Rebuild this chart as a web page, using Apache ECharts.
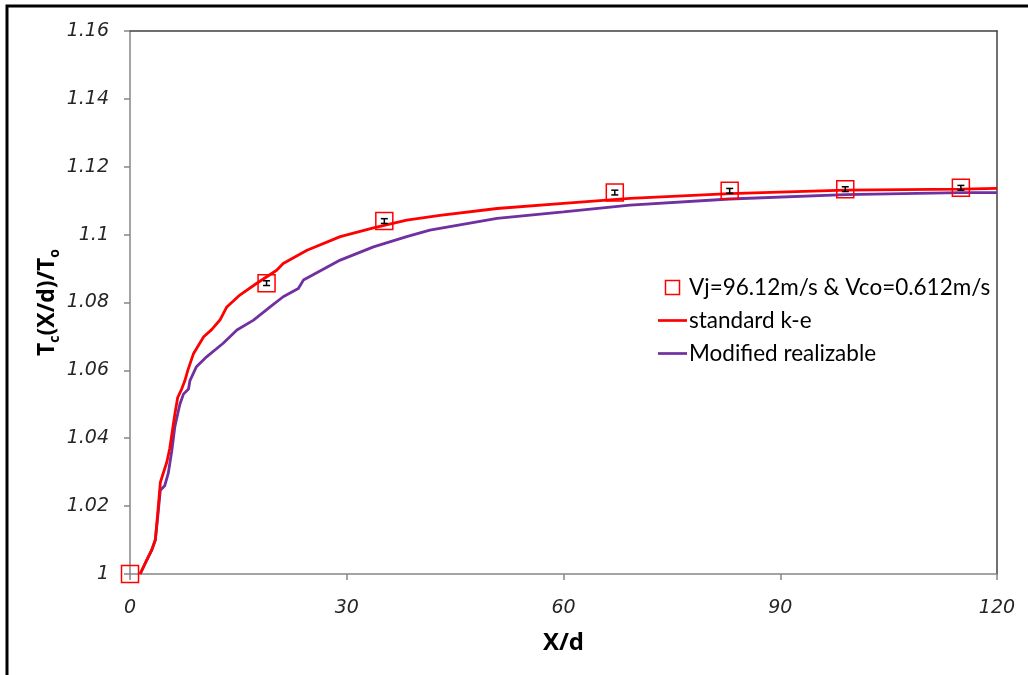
<!DOCTYPE html>
<html>
<head>
<meta charset="utf-8">
<script src="https://cdn.jsdelivr.net/npm/echarts@6/dist/echarts.min.js"></script>
<style>html,body{margin:0;padding:0;background:#fff}#c{width:1028px;height:675px}</style>
</head>
<body>
<div id="c"></div>
<script>
// ---- data ----
const expName = 'Vj=96.12m/s & Vco=0.612m/s';
const redName = 'standard k-e';
const purpleName = 'Modified realizable';

const expX = [0, 18.9, 35.2, 67.1, 83.0, 99.0, 115.0];
const expY = [1.0, 1.0857, 1.1040, 1.1124, 1.1129, 1.1134, 1.1138];
const expErr = [0, 0.0007, 0.0007, 0.0007, 0.0007, 0.0007, 0.0007];

const redX = [1.4, 2.3, 3.0, 3.5, 3.8, 4.2, 4.6, 5.1, 5.5, 6.2, 6.6, 7.15, 7.6, 8.0, 8.8, 10.2, 11.3, 12.5, 13.4, 15.2, 17.5, 20.3, 21.2, 24.5, 29.1, 33.7, 38.3, 42.9, 50.8, 60, 69.2, 83, 99, 115, 120];
const redY = [1.0, 1.004, 1.007, 1.010, 1.017, 1.027, 1.0297, 1.033, 1.037, 1.047, 1.052, 1.0545, 1.057, 1.060, 1.065, 1.0699, 1.072, 1.075, 1.0787, 1.0822, 1.0856, 1.0895, 1.0915, 1.0954, 1.0994, 1.102, 1.1043, 1.1057, 1.1077, 1.1092, 1.1107, 1.1121, 1.1131, 1.1134, 1.1136];

const purX = [1.4, 2.3, 3.0, 3.5, 3.8, 4.2, 4.8, 5.3, 5.8, 6.2, 6.9, 7.4, 8.1, 8.3, 9.2, 10.6, 12.9, 14.8, 17.1, 19.4, 21.2, 23.3, 24, 29.1, 33.7, 38.3, 41.5, 50.8, 60, 69.2, 83, 99, 115, 120];
const purY = [1.0, 1.004, 1.007, 1.010, 1.016, 1.0247, 1.026, 1.0297, 1.0365, 1.0433, 1.050, 1.053, 1.0545, 1.057, 1.0611, 1.064, 1.068, 1.0719, 1.0748, 1.0787, 1.0817, 1.0841, 1.0866, 1.0925, 1.0964, 1.0994, 1.1013, 1.1048, 1.1067, 1.1087, 1.1105, 1.1118, 1.1124, 1.1124];

const xMin = 0, xMax = 120, xInterval = 30;
const yMin = 1, yMax = 1.16, yInterval = 0.02;

// ---- chart ----
const zip = (a, b) => a.map((v, i) => [v, b[i]]);
const errData = expX.map((x, i) => [x, expY[i] - expErr[i], expY[i] + expErr[i]]);

const chart = echarts.init(document.getElementById('c'), null, {renderer: 'canvas'});
const labelFont = {fontFamily: 'DejaVu Sans', fontStyle: 'italic', fontSize: 19, color: '#262626'};
const lineIcon = 'path://M0,0 H30 V2.8 H0 Z';

chart.setOption({
  animation: false,
  backgroundColor: '#fff',
  graphic: [{
    type: 'rect', shape: {x: 7, y: 6, width: 1200, height: 1000},
    style: {fill: 'none', stroke: '#000', lineWidth: 3}, silent: true, z: 100
  }],
  grid: {left: 130, right: 31, top: 31, bottom: 101, containLabel: false},
  legend: {
    orient: 'vertical', left: 653, top: 271, itemWidth: 29, itemHeight: 14, itemGap: 10,
    textStyle: {fontFamily: 'Lato', fontSize: 22.5, color: '#000', padding: [0, 0, 0, -3]},
    data: [
      {name: expName, icon: 'path://M0,0 H10 V10 H0 Z', itemStyle: {color: 'rgba(0,0,0,0)', borderColor: '#ff0000', borderWidth: 1.5}},
      {name: redName, icon: lineIcon, itemStyle: {color: '#ff0000'}},
      {name: purpleName, icon: lineIcon, itemStyle: {color: '#7030a0'}}
    ]
  },
  xAxis: [{
    type: 'value', min: xMin, max: xMax, interval: xInterval,
    name: 'X/d', nameLocation: 'middle', nameGap: 57, nameMoveOverlap: false,
    nameTextStyle: {fontFamily: 'Open Sans', fontWeight: 'bold', fontSize: 24, color: '#000'},
    axisLine: {show: true, lineStyle: {color: '#868686', width: 1.5}},
    axisTick: {show: true, inside: false, length: 6, lineStyle: {color: '#868686', width: 1.5}},
    axisLabel: Object.assign({margin: 25}, labelFont),
    splitLine: {show: false}
  }, {
    type: 'value', position: 'top', min: xMin, max: xMax,
    axisLine: {show: true, onZero: false, lineStyle: {color: '#404040', width: 1.5}},
    axisTick: {show: false}, axisLabel: {show: false}, splitLine: {show: false}
  }],
  yAxis: [{
    type: 'value', min: yMin, max: yMax, interval: yInterval,
    name: '{b|T}{s|c}{b|(X/d)/T}{s|o}', nameLocation: 'middle', nameGap: 68, nameMoveOverlap: false,
    nameTextStyle: {
      rich: {
        b: {fontFamily: 'Open Sans', fontWeight: 'bold', fontSize: 23, color: '#000', lineHeight: 30},
        s: {fontFamily: 'Open Sans', fontWeight: 'bold', fontSize: 14, color: '#000', lineHeight: 15, verticalAlign: 'bottom'}
      }
    },
    axisLine: {show: true, onZero: false, lineStyle: {color: '#868686', width: 1.5}},
    axisTick: {show: true, inside: false, length: 6, lineStyle: {color: '#868686', width: 1.5}},
    axisLabel: Object.assign({margin: 21, formatter: v => String(+v.toFixed(2))}, labelFont),
    splitLine: {show: false}
  }, {
    type: 'value', position: 'right', min: yMin, max: yMax,
    axisLine: {show: true, onZero: false, lineStyle: {color: '#404040', width: 1.5}},
    axisTick: {show: false}, axisLabel: {show: false}, splitLine: {show: false}
  }],
  series: [
    {
      name: purpleName, type: 'line', data: zip(purX, purY), showSymbol: false, symbol: 'none',
      lineStyle: {color: '#7030a0', width: 2.8}, itemStyle: {color: '#7030a0'}, z: 2
    },
    {
      name: redName, type: 'line', data: zip(redX, redY), showSymbol: false, symbol: 'none',
      lineStyle: {color: '#ff0000', width: 2.8}, itemStyle: {color: '#ff0000'}, z: 3
    },
    {
      name: expName, type: 'scatter', data: zip(expX, expY), symbol: 'rect', symbolSize: 17,
      itemStyle: {color: 'rgba(255,255,255,0)', borderColor: '#ff0000', borderWidth: 1.5, opacity: 1}, z: 4
    },
    {
      name: 'err', type: 'custom', z: 5, data: errData,
      renderItem: function (params, api) {
        const x = api.value(0);
        const lo = api.coord([x, api.value(1)]);
        const hi = api.coord([x, api.value(2)]);
        if (Math.abs(lo[1] - hi[1]) < 0.5) return null;
        const w = 3.5;
        const st = {stroke: '#000', lineWidth: 1.5, fill: 'none'};
        return {type: 'group', children: [
          {type: 'line', shape: {x1: lo[0], y1: lo[1], x2: hi[0], y2: hi[1]}, style: st},
          {type: 'line', shape: {x1: lo[0] - w, y1: lo[1], x2: lo[0] + w, y2: lo[1]}, style: st},
          {type: 'line', shape: {x1: hi[0] - w, y1: hi[1], x2: hi[0] + w, y2: hi[1]}, style: st}
        ]};
      }
    }
  ]
});
</script>
</body>
</html>
